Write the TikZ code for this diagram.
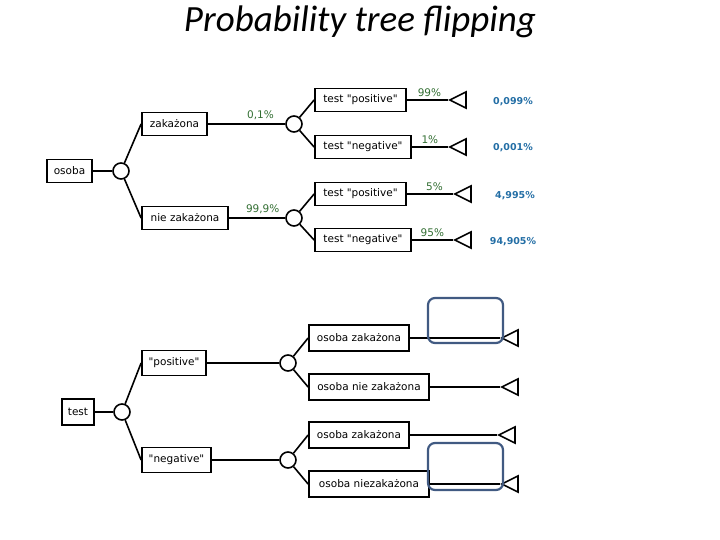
\documentclass[tikz,border=0pt]{standalone}
\usepackage{fontspec}
\setmainfont{DejaVu Sans}[Ligatures=TeXOff]
\newfontfamily\titlefont{Carlito}
\usetikzlibrary{shapes.geometric}
\definecolor{hlc}{RGB}{65,90,130}
\definecolor{resc}{RGB}{35,110,165}
\definecolor{probc}{RGB}{50,110,50}
\begin{document}
\begin{tikzpicture}[x=1pt,y=-1pt,
  box/.style={draw,line width=1.8pt,inner sep=0pt,minimum height=23pt,font=\fontsize{10.5}{12}\selectfont},
  chance/.style={draw,circle,line width=1.6pt,minimum size=16pt,inner sep=0pt},
  term/.style={draw,isosceles triangle,shape border rotate=180,isosceles triangle stretches,line width=1.6pt,minimum width=16pt,minimum height=16pt,inner sep=0pt},
  ln/.style={line width=1.6pt},
  prob/.style={text=probc,font=\fontsize{10.5}{12}\selectfont,inner sep=3pt},
  res/.style={text=resc,font=\bfseries\fontsize{9.5}{12}\selectfont},
  hl/.style={draw=hlc,line width=2.2pt,rounded corners=7pt}]
\useasboundingbox (0,0) rectangle (720,540);
\node[font=\titlefont\itshape\fontsize{37}{40}\selectfont] (title) at (360,22) {Probability tree flipping};
% top tree
\node[box,minimum width=45pt] (osoba) at (69.5,171) {osoba};
\node[chance] (c0) at (121,171) {};
\node[box,minimum width=65pt] (zak) at (174.5,124) {zakażona};
\node[box,minimum width=86pt] (niezak) at (185,218) {nie zakażona};
\node[chance] (c1) at (294,124) {};
\node[chance] (c2) at (294,218) {};
\node[box,minimum width=91pt] (tp1) at (360.5,100) {test "positive"};
\node[box,minimum width=96pt] (tn1) at (363,147) {test "negative"};
\node[box,minimum width=91pt] (tp2) at (360.5,194) {test "positive"};
\node[box,minimum width=96pt] (tn2) at (363,240) {test "negative"};
\node[term] (t1) at (461,100) {};
\node[term] (t2) at (461,147) {};
\node[term] (t3) at (466,194) {};
\node[term] (t4) at (466,240) {};
\draw[ln] (osoba) -- (c0);
\draw[ln] (c0) -- (zak.west);
\draw[ln] (c0) -- (niezak.west);
\draw[ln] (zak) -- (c1) node[prob,pos=0.68,above] {0,1\%};
\draw[ln] (niezak) -- (c2) node[prob,pos=0.6,above] {99,9\%};
\draw[ln] (c1) -- (tp1.west);
\draw[ln] (c1) -- (tn1.west);
\draw[ln] (c2) -- (tp2.west);
\draw[ln] (c2) -- (tn2.west);
\draw[ln] (tp1) -- (t1.apex) node[prob,pos=0.55,above] {99\%};
\draw[ln] (tn1) -- (t2.apex) node[prob,pos=0.5,above] {1\%};
\draw[ln] (tp2) -- (t3.apex) node[prob,pos=0.6,above] {5\%};
\draw[ln] (tn2) -- (t4.apex) node[prob,pos=0.5,above] {95\%};
\node[res] (r1) at (513,102) {0,099\%};
\node[res] (r2) at (513,148) {0,001\%};
\node[res] (r3) at (515,196) {4,995\%};
\node[res] (r4) at (513,242) {94,905\%};
% bottom tree
\node[box,minimum width=32pt,minimum height=26pt] (test) at (78,412) {test};
\node[chance] (d0) at (122,412) {};
\node[box,minimum width=64pt,minimum height=25pt] (pos) at (174,363) {"positive"};
\node[box,minimum width=69pt,minimum height=25pt] (neg) at (176.5,460) {"negative"};
\node[chance] (d1) at (288,363) {};
\node[chance] (d2) at (288,460) {};
\node[box,minimum width=100pt,minimum height=26pt] (oz1) at (359,338) {osoba zakażona};
\node[box,minimum width=120pt,minimum height=26pt] (onz1) at (369,387) {osoba nie zakażona};
\node[box,minimum width=100pt,minimum height=26pt] (oz2) at (359,435) {osoba zakażona};
\node[box,minimum width=120pt,minimum height=26pt] (onz2) at (369,484) {osoba niezakażona};
\node[term] (u1) at (513,338) {};
\node[term] (u2) at (513,387) {};
\node[term] (u3) at (510,435) {};
\node[term] (u4) at (513,484) {};
\draw[ln] (test) -- (d0);
\draw[ln] (d0) -- (pos.west);
\draw[ln] (d0) -- (neg.west);
\draw[ln] (pos) -- (d1);
\draw[ln] (neg) -- (d2);
\draw[ln] (d1) -- (oz1.west);
\draw[ln] (d1) -- (onz1.west);
\draw[ln] (d2) -- (oz2.west);
\draw[ln] (d2) -- (onz2.west);
\draw[ln] (oz1) -- (u1.apex);
\draw[ln] (onz1) -- (u2.apex);
\draw[ln] (oz2) -- (u3.apex);
\draw[ln] (onz2) -- (u4.apex);
\draw[hl] (428,298) rectangle (503,343);
\draw[hl] (428,443) rectangle (503,490);
\end{tikzpicture}
\end{document}
